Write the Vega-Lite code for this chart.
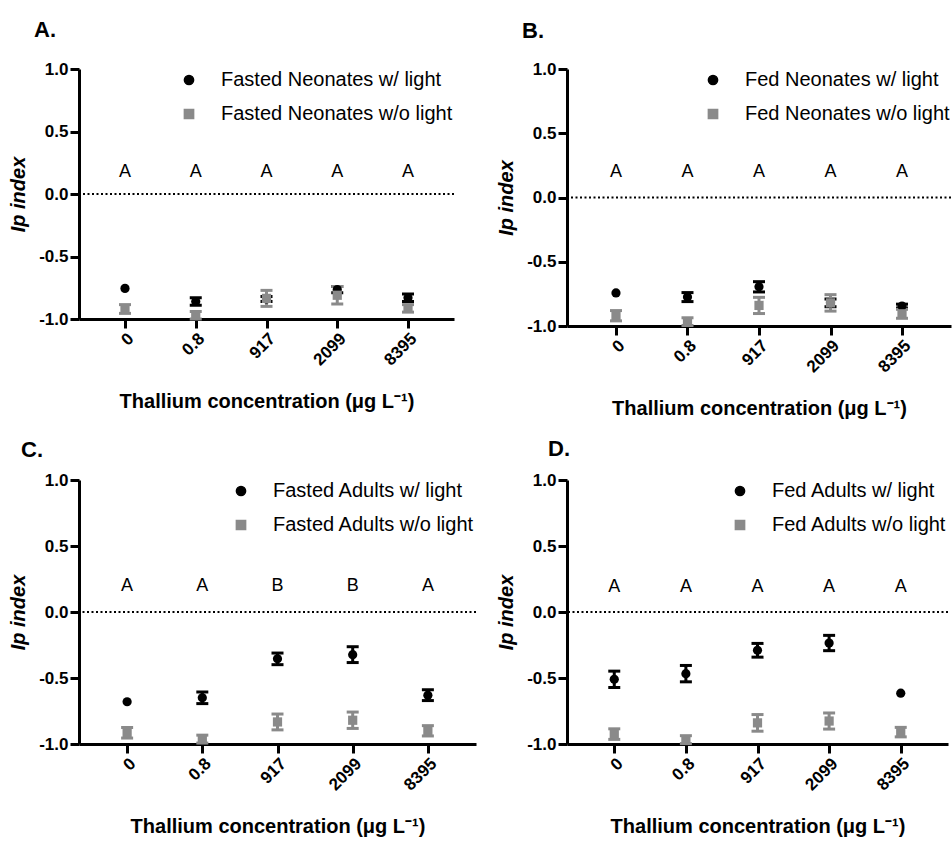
{
  "$schema": "https://vega.github.io/schema/vega-lite/v6.json",
  "padding": {"left": 8, "top": 19, "right": 0, "bottom": 0},
  "config": {
    "font": "Liberation Sans",
    "view": {"stroke": null},
    "axis": {"domainColor": "black", "domainWidth": 3, "tickColor": "black", "tickWidth": 3, "tickSize": 9, "labelFontSize": 17, "labelFontWeight": "bold", "labelColor": "black", "labelPadding": 2, "titleFontSize": 20, "titleFontWeight": "bold", "titleColor": "black", "grid": false},
    "axisY": {"titleFontStyle": "italic", "titlePadding": 10, "labelExpr": "replace(datum.label, '\u2212', '-')"},
    "axisX": {"labelAngle": -45, "titlePadding": 23},
    "legend": {"orient": "top-right", "offset": 1, "labelFontSize": 20, "labelColor": "black", "labelLimit": 0, "symbolSize": 85, "symbolOpacity": 1, "rowPadding": 14, "labelOffset": 22, "padding": 0},
    "title": {"font": "Liberation Sans", "fontSize": 22, "fontWeight": "bold", "color": "black", "anchor": "start", "frame": "group"}
  },
  "datasets": {
    "pts": [
      {"panel": "A", "conc": "0", "label": "Fasted Neonates w/ light", "mean": -0.755, "err": 0},
      {"panel": "A", "conc": "0.8", "label": "Fasted Neonates w/ light", "mean": -0.86, "err": 0.03},
      {"panel": "A", "conc": "917", "label": "Fasted Neonates w/ light", "mean": -0.84, "err": 0.02},
      {"panel": "A", "conc": "2099", "label": "Fasted Neonates w/ light", "mean": -0.765, "err": 0.025},
      {"panel": "A", "conc": "8395", "label": "Fasted Neonates w/ light", "mean": -0.83, "err": 0.03},
      {"panel": "A", "conc": "0", "label": "Fasted Neonates w/o light", "mean": -0.92, "err": 0.035},
      {"panel": "A", "conc": "0.8", "label": "Fasted Neonates w/o light", "mean": -0.97, "err": 0.03},
      {"panel": "A", "conc": "917", "label": "Fasted Neonates w/o light", "mean": -0.835, "err": 0.064},
      {"panel": "A", "conc": "2099", "label": "Fasted Neonates w/o light", "mean": -0.81, "err": 0.07},
      {"panel": "A", "conc": "8395", "label": "Fasted Neonates w/o light", "mean": -0.915, "err": 0.03},
      {"panel": "B", "conc": "0", "label": "Fed Neonates w/ light", "mean": -0.743, "err": 0},
      {"panel": "B", "conc": "0.8", "label": "Fed Neonates w/ light", "mean": -0.775, "err": 0.035},
      {"panel": "B", "conc": "917", "label": "Fed Neonates w/ light", "mean": -0.695, "err": 0.04},
      {"panel": "B", "conc": "2099", "label": "Fed Neonates w/ light", "mean": -0.82, "err": 0.03},
      {"panel": "B", "conc": "8395", "label": "Fed Neonates w/ light", "mean": -0.845, "err": 0.015},
      {"panel": "B", "conc": "0", "label": "Fed Neonates w/o light", "mean": -0.92, "err": 0.04},
      {"panel": "B", "conc": "0.8", "label": "Fed Neonates w/o light", "mean": -0.966, "err": 0.03},
      {"panel": "B", "conc": "917", "label": "Fed Neonates w/o light", "mean": -0.84, "err": 0.063},
      {"panel": "B", "conc": "2099", "label": "Fed Neonates w/o light", "mean": -0.82, "err": 0.064},
      {"panel": "B", "conc": "8395", "label": "Fed Neonates w/o light", "mean": -0.905, "err": 0.035},
      {"panel": "C", "conc": "0", "label": "Fasted Adults w/ light", "mean": -0.68, "err": 0},
      {"panel": "C", "conc": "0.8", "label": "Fasted Adults w/ light", "mean": -0.65, "err": 0.044},
      {"panel": "C", "conc": "917", "label": "Fasted Adults w/ light", "mean": -0.355, "err": 0.044},
      {"panel": "C", "conc": "2099", "label": "Fasted Adults w/ light", "mean": -0.323, "err": 0.06},
      {"panel": "C", "conc": "8395", "label": "Fasted Adults w/ light", "mean": -0.63, "err": 0.041},
      {"panel": "C", "conc": "0", "label": "Fasted Adults w/o light", "mean": -0.915, "err": 0.04},
      {"panel": "C", "conc": "0.8", "label": "Fasted Adults w/o light", "mean": -0.963, "err": 0.03},
      {"panel": "C", "conc": "917", "label": "Fasted Adults w/o light", "mean": -0.833, "err": 0.06},
      {"panel": "C", "conc": "2099", "label": "Fasted Adults w/o light", "mean": -0.82, "err": 0.062},
      {"panel": "C", "conc": "8395", "label": "Fasted Adults w/o light", "mean": -0.9, "err": 0.039},
      {"panel": "D", "conc": "0", "label": "Fed Adults w/ light", "mean": -0.51, "err": 0.062},
      {"panel": "D", "conc": "0.8", "label": "Fed Adults w/ light", "mean": -0.467, "err": 0.062},
      {"panel": "D", "conc": "917", "label": "Fed Adults w/ light", "mean": -0.29, "err": 0.052},
      {"panel": "D", "conc": "2099", "label": "Fed Adults w/ light", "mean": -0.235, "err": 0.058},
      {"panel": "D", "conc": "8395", "label": "Fed Adults w/ light", "mean": -0.615, "err": 0},
      {"panel": "D", "conc": "0", "label": "Fed Adults w/o light", "mean": -0.925, "err": 0.04},
      {"panel": "D", "conc": "0.8", "label": "Fed Adults w/o light", "mean": -0.967, "err": 0.03},
      {"panel": "D", "conc": "917", "label": "Fed Adults w/o light", "mean": -0.84, "err": 0.063},
      {"panel": "D", "conc": "2099", "label": "Fed Adults w/o light", "mean": -0.826, "err": 0.061},
      {"panel": "D", "conc": "8395", "label": "Fed Adults w/o light", "mean": -0.91, "err": 0.036}
    ],
    "letters": [
      {"panel": "A", "conc": "0", "letter": "A"}, {"panel": "A", "conc": "0.8", "letter": "A"}, {"panel": "A", "conc": "917", "letter": "A"}, {"panel": "A", "conc": "2099", "letter": "A"}, {"panel": "A", "conc": "8395", "letter": "A"},
      {"panel": "B", "conc": "0", "letter": "A"}, {"panel": "B", "conc": "0.8", "letter": "A"}, {"panel": "B", "conc": "917", "letter": "A"}, {"panel": "B", "conc": "2099", "letter": "A"}, {"panel": "B", "conc": "8395", "letter": "A"},
      {"panel": "C", "conc": "0", "letter": "A"}, {"panel": "C", "conc": "0.8", "letter": "A"}, {"panel": "C", "conc": "917", "letter": "B"}, {"panel": "C", "conc": "2099", "letter": "B"}, {"panel": "C", "conc": "8395", "letter": "A"},
      {"panel": "D", "conc": "0", "letter": "A"}, {"panel": "D", "conc": "0.8", "letter": "A"}, {"panel": "D", "conc": "917", "letter": "A"}, {"panel": "D", "conc": "2099", "letter": "A"}, {"panel": "D", "conc": "8395", "letter": "A"}
    ]
  },
  "columns": 2,
  "spacing": {"row": 154, "column": 91},
  "bounds": "flush",
  "align": "each",
  "resolve": {
    "scale": {"color": "independent", "shape": "independent", "x": "independent", "y": "independent"},
    "legend": {"color": "independent", "shape": "independent"},
    "axis": {"x": "independent", "y": "independent"}
  },
  "concat": [
    {
      "width": 375, "height": 250,
      "title": {"text": "A.", "dx": -45, "offset": 18},
      "layer": [
        {"data": {"values": [{}]}, "mark": {"type": "rule", "color": "black", "strokeDash": [2, 2.5], "strokeWidth": 2}, "encoding": {"y": {"datum": 0, "type": "quantitative", "title": "Ip index"}}},
        {"data": {"name": "pts"}, "transform": [{"filter": "datum.panel === 'A' && datum.err > 0"}], "mark": {"type": "errorbar", "ticks": true, "size": 12, "thickness": 3, "opacity": 1},
         "encoding": {"x": {"field": "conc", "type": "ordinal", "title": "Thallium concentration (μg L⁻¹)", "scale": {"type": "point", "domain": ["0", "0.8", "917", "2099", "8395"], "padding": 0.65}, "axis": {"labelAngle": -45}},
                      "y": {"field": "mean", "type": "quantitative", "title": "Ip index"}, "yError": {"field": "err"},
                      "color": {"field": "label", "type": "nominal", "scale": {"domain": ["Fasted Neonates w/ light", "Fasted Neonates w/o light"], "range": ["black", "#8a8a8a"]}, "legend": {"title": null}}}},
        {"data": {"name": "pts"}, "transform": [{"filter": "datum.panel === 'A'"}], "mark": {"type": "point", "filled": true, "size": 85, "opacity": 1},
         "encoding": {"x": {"field": "conc", "type": "ordinal", "title": "Thallium concentration (μg L⁻¹)", "axis": {"labelAngle": -45}},
                      "y": {"field": "mean", "type": "quantitative", "title": "Ip index", "scale": {"domain": [-1, 1], "nice": false}, "axis": {"values": [-1, -0.5, 0, 0.5, 1], "format": ".1f"}},
                      "color": {"field": "label", "type": "nominal", "legend": {"title": null}},
                      "shape": {"field": "label", "type": "nominal", "scale": {"domain": ["Fasted Neonates w/ light", "Fasted Neonates w/o light"], "range": ["circle", "square"]}, "legend": {"title": null}}}},
        {"data": {"name": "letters"}, "transform": [{"filter": "datum.panel === 'A'"}], "mark": {"type": "text", "fontSize": 18, "color": "black", "baseline": "middle"},
         "encoding": {"x": {"field": "conc", "type": "ordinal", "title": "Thallium concentration (μg L⁻¹)", "axis": {"labelAngle": -45}}, "y": {"datum": 0.18, "type": "quantitative"}, "text": {"field": "letter"}}}
      ]
    },
    {
      "width": 384, "height": 257,
      "title": {"text": "B.", "dx": -45, "offset": 17},
      "layer": [
        {"data": {"values": [{}]}, "mark": {"type": "rule", "color": "black", "strokeDash": [2, 2.5], "strokeWidth": 2}, "encoding": {"y": {"datum": 0, "type": "quantitative", "title": "Ip index"}}},
        {"data": {"name": "pts"}, "transform": [{"filter": "datum.panel === 'B' && datum.err > 0"}], "mark": {"type": "errorbar", "ticks": true, "size": 12, "thickness": 3, "opacity": 1},
         "encoding": {"x": {"field": "conc", "type": "ordinal", "title": "Thallium concentration (μg L⁻¹)", "scale": {"type": "point", "domain": ["0", "0.8", "917", "2099", "8395"], "padding": 0.685}, "axis": {"labelAngle": -45}},
                      "y": {"field": "mean", "type": "quantitative", "title": "Ip index"}, "yError": {"field": "err"},
                      "color": {"field": "label", "type": "nominal", "scale": {"domain": ["Fed Neonates w/ light", "Fed Neonates w/o light"], "range": ["black", "#8a8a8a"]}, "legend": {"title": null}}}},
        {"data": {"name": "pts"}, "transform": [{"filter": "datum.panel === 'B'"}], "mark": {"type": "point", "filled": true, "size": 85, "opacity": 1},
         "encoding": {"x": {"field": "conc", "type": "ordinal", "title": "Thallium concentration (μg L⁻¹)", "axis": {"labelAngle": -45}},
                      "y": {"field": "mean", "type": "quantitative", "title": "Ip index", "scale": {"domain": [-1, 1], "nice": false}, "axis": {"values": [-1, -0.5, 0, 0.5, 1], "format": ".1f"}},
                      "color": {"field": "label", "type": "nominal", "legend": {"title": null}},
                      "shape": {"field": "label", "type": "nominal", "scale": {"domain": ["Fed Neonates w/ light", "Fed Neonates w/o light"], "range": ["circle", "square"]}, "legend": {"title": null}}}},
        {"data": {"name": "letters"}, "transform": [{"filter": "datum.panel === 'B'"}], "mark": {"type": "text", "fontSize": 18, "color": "black", "baseline": "middle"},
         "encoding": {"x": {"field": "conc", "type": "ordinal", "title": "Thallium concentration (μg L⁻¹)", "axis": {"labelAngle": -45}}, "y": {"datum": 0.2, "type": "quantitative"}, "text": {"field": "letter"}}}
      ]
    },
    {
      "width": 397, "height": 264,
      "title": {"text": "C.", "dx": -58, "offset": 9},
      "layer": [
        {"data": {"values": [{}]}, "mark": {"type": "rule", "color": "black", "strokeDash": [2, 2.5], "strokeWidth": 2}, "encoding": {"y": {"datum": 0, "type": "quantitative", "title": "Ip index"}}},
        {"data": {"name": "pts"}, "transform": [{"filter": "datum.panel === 'C' && datum.err > 0"}], "mark": {"type": "errorbar", "ticks": true, "size": 12, "thickness": 3, "opacity": 1},
         "encoding": {"x": {"field": "conc", "type": "ordinal", "title": "Thallium concentration (μg L⁻¹)", "scale": {"type": "point", "domain": ["0", "0.8", "917", "2099", "8395"], "padding": 0.64}, "axis": {"labelAngle": -45}},
                      "y": {"field": "mean", "type": "quantitative", "title": "Ip index"}, "yError": {"field": "err"},
                      "color": {"field": "label", "type": "nominal", "scale": {"domain": ["Fasted Adults w/ light", "Fasted Adults w/o light"], "range": ["black", "#8a8a8a"]}, "legend": {"title": null}}}},
        {"data": {"name": "pts"}, "transform": [{"filter": "datum.panel === 'C'"}], "mark": {"type": "point", "filled": true, "size": 85, "opacity": 1},
         "encoding": {"x": {"field": "conc", "type": "ordinal", "title": "Thallium concentration (μg L⁻¹)", "axis": {"labelAngle": -45}},
                      "y": {"field": "mean", "type": "quantitative", "title": "Ip index", "scale": {"domain": [-1, 1], "nice": false}, "axis": {"values": [-1, -0.5, 0, 0.5, 1], "format": ".1f"}},
                      "color": {"field": "label", "type": "nominal", "legend": {"title": null}},
                      "shape": {"field": "label", "type": "nominal", "scale": {"domain": ["Fasted Adults w/ light", "Fasted Adults w/o light"], "range": ["circle", "square"]}, "legend": {"title": null}}}},
        {"data": {"name": "letters"}, "transform": [{"filter": "datum.panel === 'C'"}], "mark": {"type": "text", "fontSize": 18, "color": "black", "baseline": "middle"},
         "encoding": {"x": {"field": "conc", "type": "ordinal", "title": "Thallium concentration (μg L⁻¹)", "axis": {"labelAngle": -45}}, "y": {"datum": 0.2, "type": "quantitative"}, "text": {"field": "letter"}}}
      ]
    },
    {
      "width": 381, "height": 264,
      "title": {"text": "D.", "dx": -19, "offset": 10},
      "layer": [
        {"data": {"values": [{}]}, "mark": {"type": "rule", "color": "black", "strokeDash": [2, 2.5], "strokeWidth": 2}, "encoding": {"y": {"datum": 0, "type": "quantitative", "title": "Ip index"}}},
        {"data": {"name": "pts"}, "transform": [{"filter": "datum.panel === 'D' && datum.err > 0"}], "mark": {"type": "errorbar", "ticks": true, "size": 12, "thickness": 3, "opacity": 1},
         "encoding": {"x": {"field": "conc", "type": "ordinal", "title": "Thallium concentration (μg L⁻¹)", "scale": {"type": "point", "domain": ["0", "0.8", "917", "2099", "8395"], "padding": 0.66}, "axis": {"labelAngle": -45}},
                      "y": {"field": "mean", "type": "quantitative", "title": "Ip index"}, "yError": {"field": "err"},
                      "color": {"field": "label", "type": "nominal", "scale": {"domain": ["Fed Adults w/ light", "Fed Adults w/o light"], "range": ["black", "#8a8a8a"]}, "legend": {"title": null}}}},
        {"data": {"name": "pts"}, "transform": [{"filter": "datum.panel === 'D'"}], "mark": {"type": "point", "filled": true, "size": 85, "opacity": 1},
         "encoding": {"x": {"field": "conc", "type": "ordinal", "title": "Thallium concentration (μg L⁻¹)", "axis": {"labelAngle": -45}},
                      "y": {"field": "mean", "type": "quantitative", "title": "Ip index", "scale": {"domain": [-1, 1], "nice": false}, "axis": {"values": [-1, -0.5, 0, 0.5, 1], "format": ".1f"}},
                      "color": {"field": "label", "type": "nominal", "legend": {"title": null}},
                      "shape": {"field": "label", "type": "nominal", "scale": {"domain": ["Fed Adults w/ light", "Fed Adults w/o light"], "range": ["circle", "square"]}, "legend": {"title": null}}}},
        {"data": {"name": "letters"}, "transform": [{"filter": "datum.panel === 'D'"}], "mark": {"type": "text", "fontSize": 18, "color": "black", "baseline": "middle"},
         "encoding": {"x": {"field": "conc", "type": "ordinal", "title": "Thallium concentration (μg L⁻¹)", "axis": {"labelAngle": -45}}, "y": {"datum": 0.19, "type": "quantitative"}, "text": {"field": "letter"}}}
      ]
    }
  ]
}
